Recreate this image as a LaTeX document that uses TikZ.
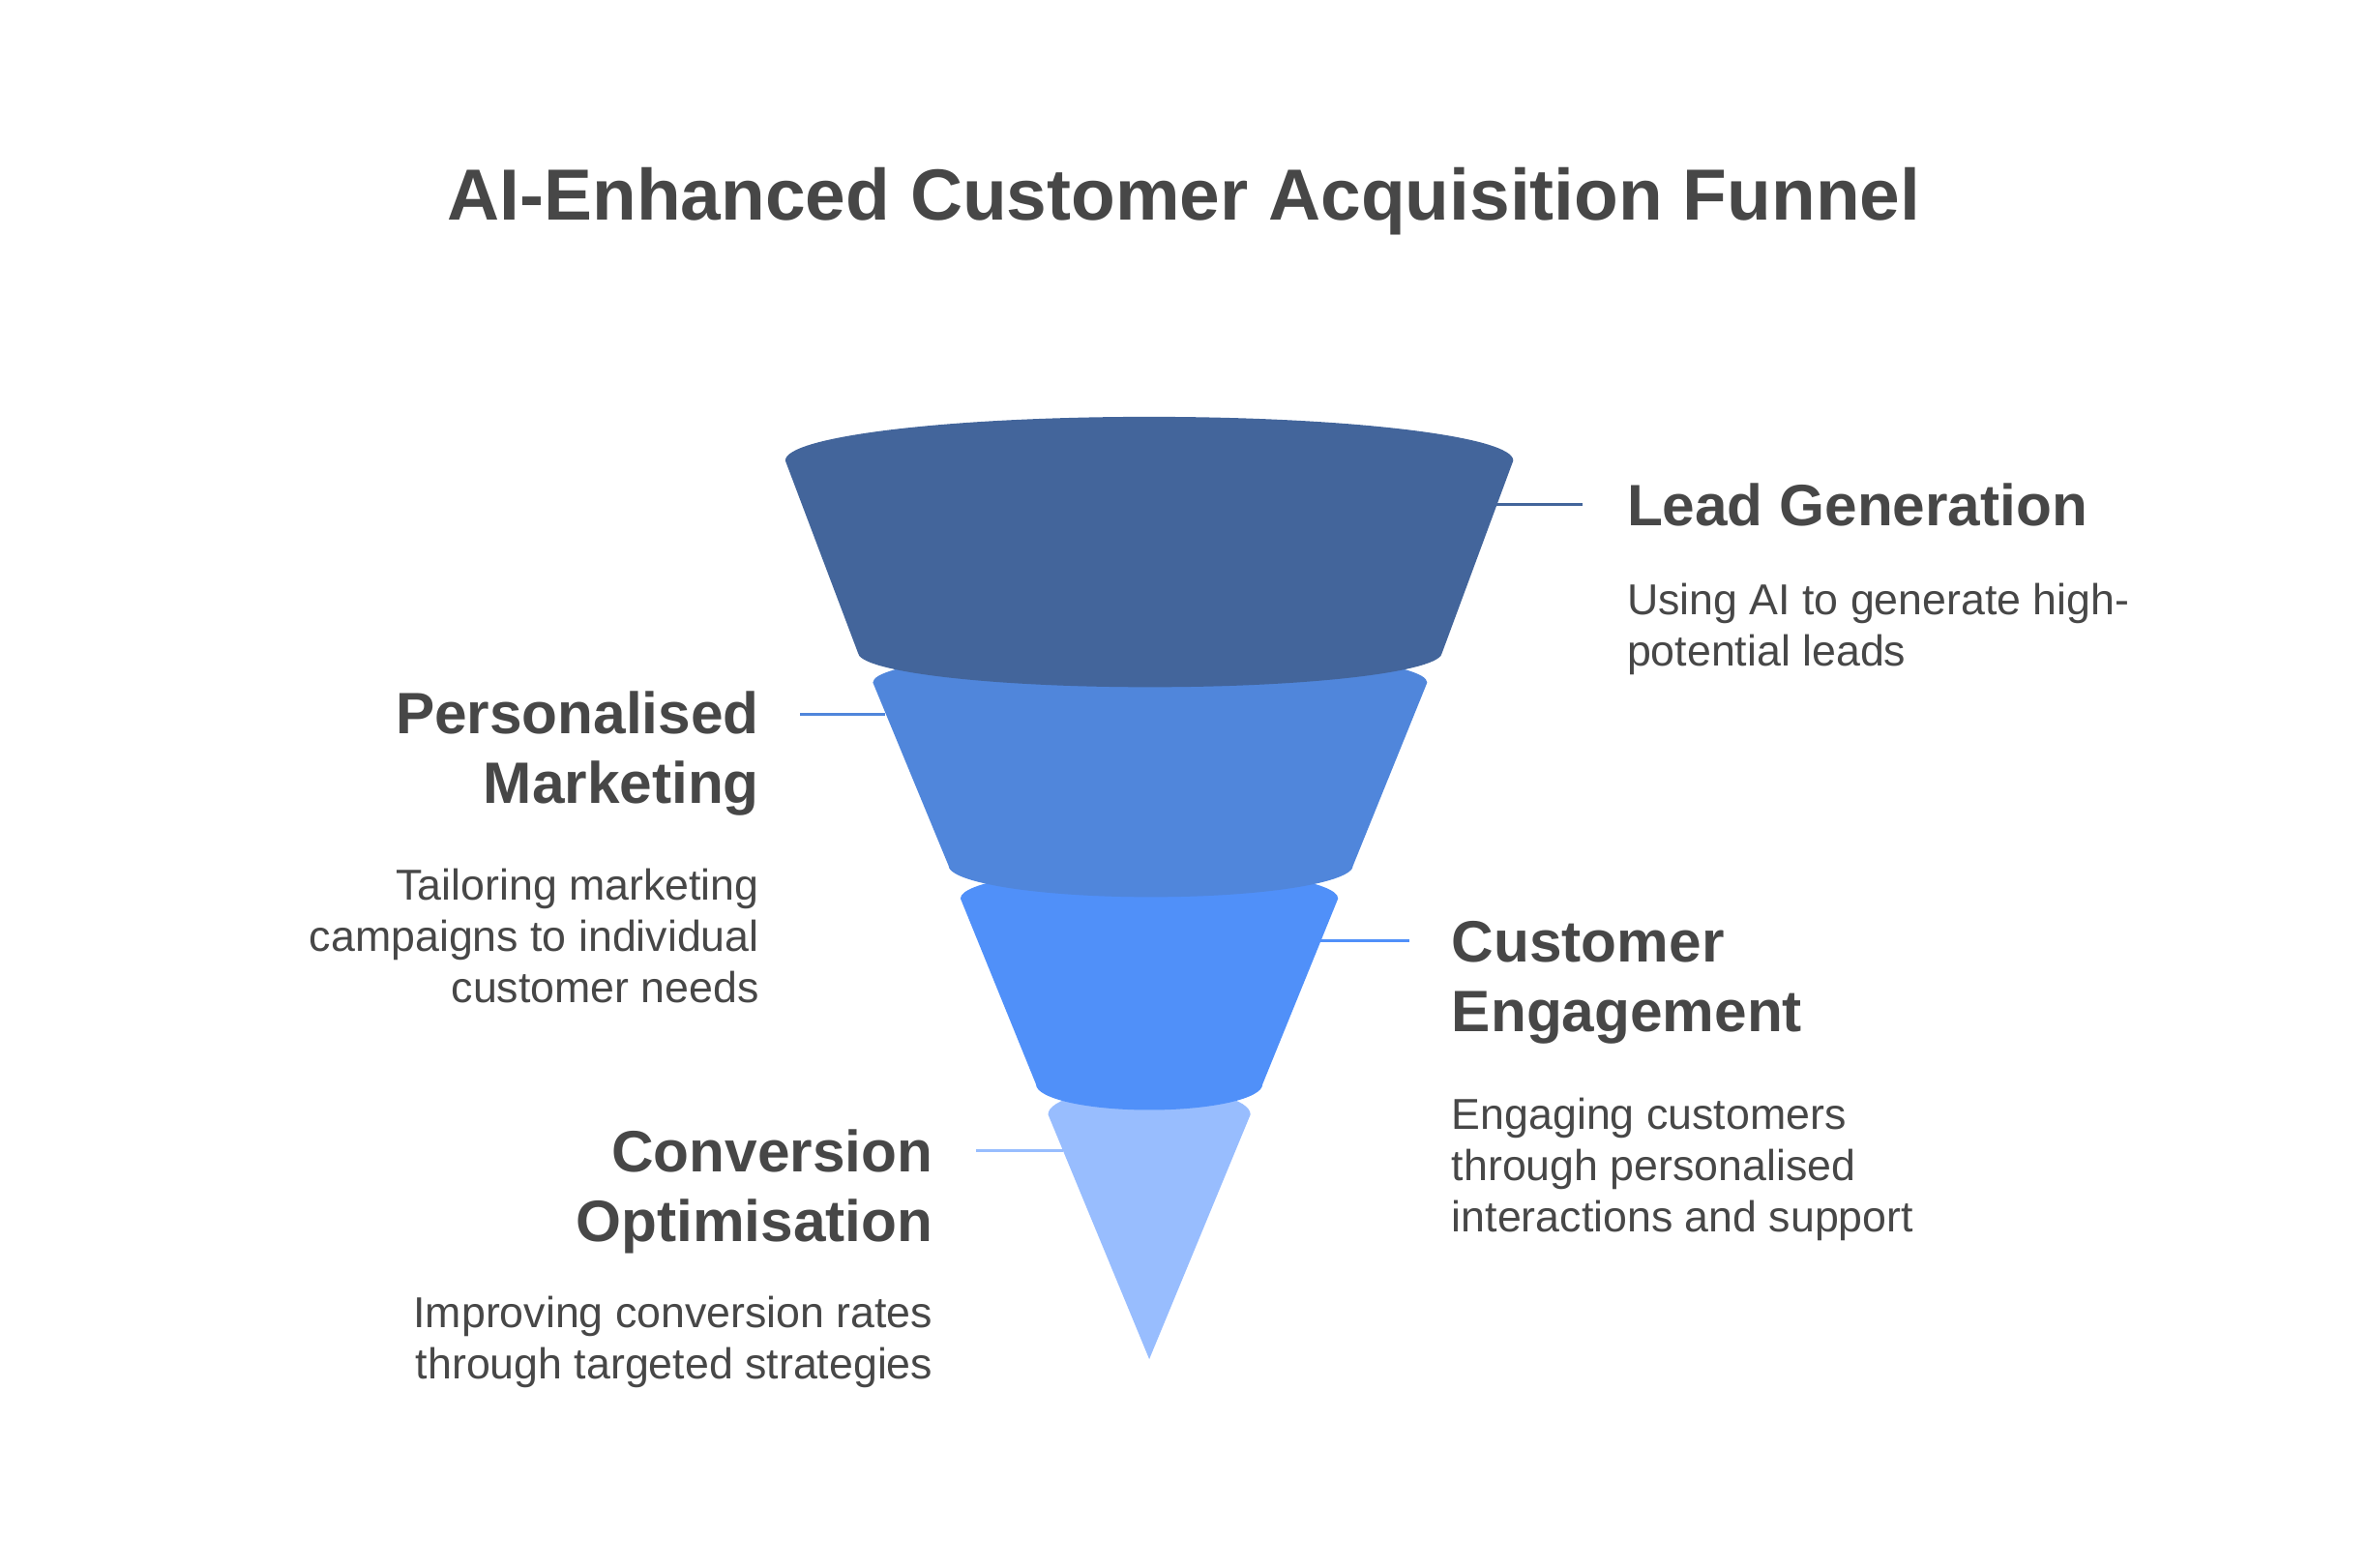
\documentclass[tikz,border=0pt]{standalone}
\usepackage{fontspec}
\setmainfont{Liberation Sans}
\definecolor{txtgray}{HTML}{474747}
\definecolor{segA}{HTML}{43659B}
\definecolor{segB}{HTML}{5086DB}
\definecolor{segC}{HTML}{5090F9}
\definecolor{segD}{HTML}{98BDFE}
\begin{document}
\begin{tikzpicture}[
    x=0.02cm, y=0.02cm,
    title/.style={font=\fontsize{27.3}{32}\selectfont\bfseries, text=txtgray, inner sep=0},
    head/.style={font=\fontsize{22}{26.2}\selectfont\bfseries, text=txtgray, inner sep=0},
    desc/.style={font=\fontsize{16.3}{19.35}\selectfont, text=txtgray, inner sep=0},
    conn/.style={line width=1pt}
]
\useasboundingbox (0,0) rectangle (1568,1038);
\node[title, anchor=base] (title) at (784, 892) {AI-Enhanced Customer Acquisition Funnel};

% funnel, drawn from the tip upwards
\fill[segD] (694,300) arc[start angle=180, end angle=0, x radius=67, y radius=18] -- (761,138) -- cycle;
\fill[segC] (636,443) arc[start angle=180, end angle=0, x radius=125, y radius=20] -- (836,320) arc[start angle=0, end angle=-180, x radius=75, y radius=17] -- cycle;
\fill[segB] (578,586) arc[start angle=180, end angle=0, x radius=183.5, y radius=22] -- (896,465) arc[start angle=0, end angle=-180, x radius=134, y radius=21] -- cycle;
\fill[segA] (520,733) arc[start angle=180, end angle=0, x radius=241, y radius=29] -- (955,606) arc[start angle=0, end angle=-180, x radius=193.5, y radius=23] -- cycle;

% labels (base = last line)
\node[head, anchor=base west] (lg-head) at (1077, 690) {Lead Generation};
\node[desc, anchor=base west, align=left] (lg-desc) at (1077, 597) {Using AI to generate high-\\potential leads};
\node[head, anchor=base east, align=right] (pm-head) at (503, 506) {Personalised\\Marketing};
\node[desc, anchor=base east, align=right] (pm-desc) at (503, 374) {Tailoring marketing\\campaigns to individual\\customer needs};
\node[head, anchor=base west, align=left] (ce-head) at (961, 355) {Customer\\Engagement};
\node[desc, anchor=base west, align=left] (ce-desc) at (961, 222) {Engaging customers\\through personalised\\interactions and support};
\node[head, anchor=base east, align=right] (co-head) at (618, 216) {Conversion\\Optimisation};
\node[desc, anchor=base east, align=right] (co-desc) at (618, 125) {Improving conversion rates\\through targeted strategies};

% connectors
\coordinate (lg-a) at (990,704);
\coordinate (lg-b) at (1048,704);
\coordinate (pm-a) at (586,565);
\coordinate (pm-b) at (530,565);
\coordinate (ce-a) at (874,415);
\coordinate (ce-b) at (933,415);
\coordinate (co-a) at (704,276);
\coordinate (co-b) at (646,276);
\draw[conn, segA] (lg-a) -- (lg-b);
\draw[conn, segB] (pm-a) -- (pm-b);
\draw[conn, segC] (ce-a) -- (ce-b);
\draw[conn, segD] (co-a) -- (co-b);
\end{tikzpicture}
\end{document}
